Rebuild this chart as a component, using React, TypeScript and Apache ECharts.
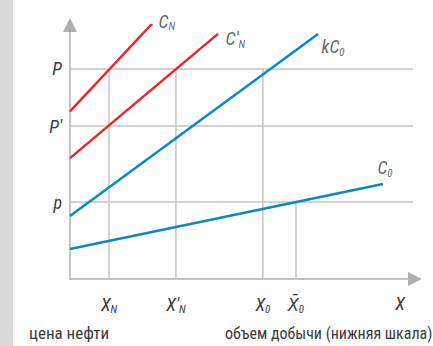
import { useEffect, useRef } from "react";
import * as echarts from "echarts";

// ---- data (abstract units: x 0..100, y 0..100) ----
const xTickValues = [11.3, 30.7, 55.9, 65.5, 95.7];
const xTickLabels = ["{m|X}{s|N}", "{m|X'}{s|N}", "{m|X}{s|0}", "{m|X\u0304}{s|0}", "{m|X}"];
const yTickValues = [30.3, 60.2, 82.7];
const yTickLabels = ["{m|p}", "{m|P'}", "{m|P}"];

const curveCN = [[0, 66], [23.8, 100.5]];
const curveCNPrime = [[0, 47.6], [42.9, 96.5]];
const curveKC0 = [[0, 24.8], [71.9, 96.5]];
const curveC0 = [[0, 11.8], [90.7, 37.4]];
const curveNames = ["{m|C}{s|N}", "{m|C'}{s|N}", "{m|kC}{s|0}", "{m|C}{s|0}"];

const hGuideLevels = [82.7, 60.2, 30.3];
const hGuideEnd = 99.4;
const vGuides = [[11.3, 82.7], [30.7, 82.7], [55.9, 82.7], [65.5, 30.3]];

const bottomLeftText = "цена нефти";
const bottomRightText = "объем добычи (нижняя шкала)";

const FONT = "'Roboto Condensed', 'DejaVu Sans Condensed', sans-serif";
const RED = "#e8262c";
const BLUE = "#0b88bf";
const GRID_GRAY = "#c4c4c4";
const AXIS_GRAY = "#b0b0b0";
const TEXT = "#3a3a3a";

const rich = {
  m: { fontFamily: FONT, fontSize: 18, fontStyle: "italic", color: TEXT, lineHeight: 20 },
  s: { fontFamily: FONT, fontSize: 11, fontStyle: "italic", color: TEXT, verticalAlign: "top", padding: [11, 0, 0, 0] },
};

function lookup(values: number[], labels: string[], v: number) {
  const i = values.findIndex((x) => Math.abs(x - v) < 1e-6);
  return i >= 0 ? labels[i] : "";
}

export default function App() {
  const ref = useRef<HTMLDivElement>(null);
  useEffect(() => {
    if (!ref.current) return;
    const chart = echarts.init(ref.current, null, { renderer: "svg" });

    const guideSeries: any[] = [];
    hGuideLevels.forEach((y) => {
      guideSeries.push({
        type: "line", silent: true, symbol: "none", z: 1,
        lineStyle: { color: GRID_GRAY, width: 1.5 },
        data: [[0, y], [hGuideEnd, y]],
      });
    });
    vGuides.forEach(([x, y]) => {
      guideSeries.push({
        type: "line", silent: true, symbol: "none", z: 1,
        lineStyle: { color: GRID_GRAY, width: 1.5 },
        data: [[x, 0], [x, y]],
      });
    });

    const curves = [
      { data: curveCN, color: RED, off: [1, -2.5] },
      { data: curveCNPrime, color: RED, off: [2, 5] },
      { data: curveKC0, color: BLUE, off: [-2, 13] },
      { data: curveC0, color: BLUE, off: [-11, -16.5] },
    ];

    const curveSeries = curves.map((c) => ({
      type: "line", silent: true, symbol: "none", z: 3,
      lineStyle: { color: c.color, width: 2.5 },
      data: c.data,
    }));

    const labelSeries = {
      type: "scatter", silent: true, clip: false, symbolSize: 1, z: 4,
      itemStyle: { color: "transparent" },
      data: curves.map((c, i) => ({
        value: c.data[c.data.length - 1],
        label: {
          show: true, position: "right", distance: 5, offset: c.off,
          formatter: curveNames[i], rich,
        },
      })),
    };

    chart.setOption({
      animation: false,
      backgroundColor: "#ffffff",
      grid: { left: 70, right: 18, top: 25, bottom: 67, containLabel: false },
      xAxis: {
        type: "value", min: 0, max: 100,
        splitLine: { show: false },
        axisTick: { show: false },
        axisLine: {
          show: true, onZero: false,
          lineStyle: { color: AXIS_GRAY, width: 1.5 },
          symbol: ["none", "triangle"], symbolSize: [14, 14],
        },
        axisLabel: {
          customValues: xTickValues, margin: 14,
          formatter: (v: number) => lookup(xTickValues, xTickLabels, v),
          rich,
        },
      },
      yAxis: {
        type: "value", min: 0, max: 100,
        splitLine: { show: false },
        axisTick: { show: false },
        axisLine: {
          show: true, onZero: false,
          lineStyle: { color: AXIS_GRAY, width: 1.5 },
          symbol: ["none", "triangle"], symbolSize: [14, 14],
        },
        axisLabel: {
          customValues: yTickValues, margin: 8,
          formatter: (v: number) => lookup(yTickValues, yTickLabels, v),
          rich,
        },
      },
      graphic: [
        { type: "rect", left: 0, top: 0, shape: { width: 13, height: 346 }, style: { fill: "#d9d9d9" }, silent: true },
        { type: "text", left: 29, top: 324, style: { text: bottomLeftText, font: `17px ${FONT}`, fill: TEXT } },
        { type: "text", left: 225, top: 325, style: { text: bottomRightText, font: `16px ${FONT}`, fill: TEXT } },
      ],
      series: [...guideSeries, ...curveSeries, labelSeries],
    });
    return () => chart.dispose();
  }, []);
  return <div ref={ref} style={{ position: "fixed", left: 0, top: 0, width: 433, height: 346 }} />;
}
